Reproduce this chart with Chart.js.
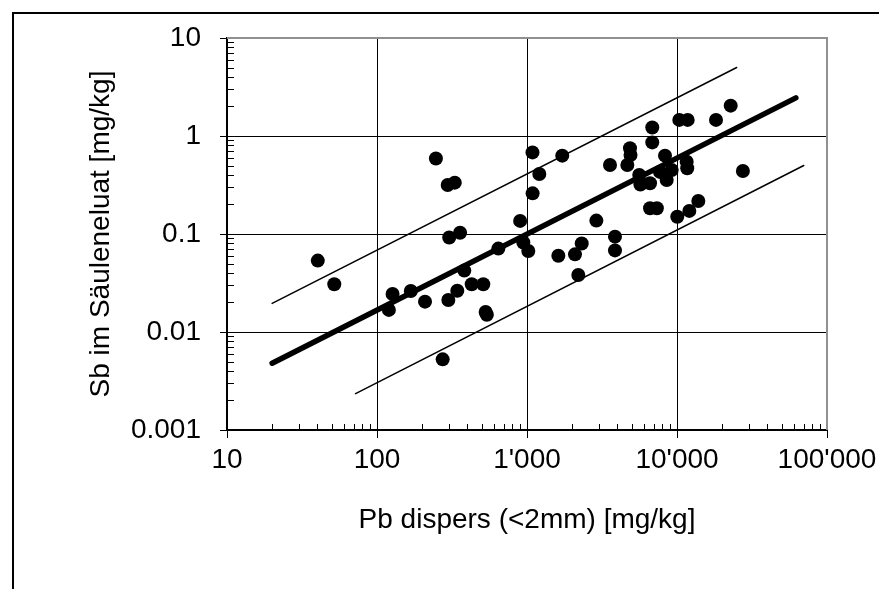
<!DOCTYPE html>
<html>
<head>
<meta charset="utf-8">
<script src="https://cdn.jsdelivr.net/npm/chart.js@4/dist/chart.umd.min.js"></script>
<style>
  html, body { margin: 0; padding: 0; background: #fff; }
  #sb-chart { display: block; }
</style>
</head>
<body>
<canvas id="sb-chart" width="879" height="589"></canvas>
<script>
// Pb dispers (<2mm) [mg/kg] vs Sb im Säuleneluat [mg/kg]
const pbDispers = [40.3, 51.9, 120, 127, 168, 209, 247, 274, 299, 296, 330, 303, 358, 343, 382, 428, 511, 530, 540, 644,
  900, 945, 1020, 1088, 1090, 1208, 1618, 1718, 2089, 2198, 2316, 2900, 3575, 3860, 3860, 4666, 4860, 4900, 5600, 5700,
  6610, 6610, 7340, 6840, 6840, 7700, 8320, 8540, 9220, 10040, 10360, 11780, 11600, 11700, 12080, 13870, 18200, 22800, 27500];
const sbEluat = [0.0535, 0.0307, 0.0168, 0.0244, 0.0262, 0.0204, 0.59, 0.00526, 0.0212, 0.316, 0.334, 0.092, 0.103, 0.0264, 0.0423, 0.0307, 0.0307, 0.016, 0.015, 0.071,
  0.136, 0.082, 0.067, 0.68, 0.26, 0.41, 0.060, 0.63, 0.062, 0.0382, 0.080, 0.137, 0.506, 0.094, 0.068, 0.506, 0.75, 0.64, 0.40, 0.32,
  0.329, 0.183, 0.183, 1.22, 0.86, 0.43, 0.63, 0.356, 0.45, 0.150, 1.46, 1.46, 0.547, 0.468, 0.172, 0.217, 1.46, 2.04, 0.44];

// regression line and the two band lines (end points)
const fitX = [20, 62000];
const fitY = [0.0048, 2.45];
const upperX = [20, 25000];
const upperY = [0.0196, 5.0];
const lowerX = [72, 70000];
const lowerY = [0.00235, 0.5];

const xTicks = [10, 100, 1000, 10000, 100000];
const xTickLabels = ["10", "100", "1'000", "10'000", "100'000"];
const yTicks = [0.001, 0.01, 0.1, 1, 10];
const yTickLabels = ["0.001", "0.01", "0.1", "1", "10"];

const FONT = { family: "'Liberation Sans', Arial, sans-serif", size: 28 };

function points(xs, ys) {
  return xs.map((v, i) => ({ x: v, y: ys[i] }));
}

function lineDataset(xs, ys, width) {
  return {
    data: points(xs, ys),
    showLine: true,
    borderColor: "#000",
    borderWidth: width,
    borderCapStyle: "round",
    pointRadius: 0,
    fill: false,
  };
}

// minor log ticks, plot frame and the outer frame
const frame = {
  id: "frame",
  afterDraw(chart) {
    const { ctx, chartArea: a, scales: { x, y } } = chart;
    ctx.save();
    ctx.strokeStyle = "#000";
    ctx.lineWidth = 1;
    ctx.beginPath();
    for (let e = 1; e < 5; e++) {
      for (let k = 2; k < 10; k++) {
        const px = Math.round(x.getPixelForValue(k * Math.pow(10, e))) + 0.5;
        ctx.moveTo(px, a.bottom);
        ctx.lineTo(px, a.bottom - 6);
      }
    }
    for (let e = -3; e < 1; e++) {
      for (let k = 2; k < 10; k++) {
        const py = Math.round(y.getPixelForValue(k * Math.pow(10, e))) + 0.5;
        ctx.moveTo(a.left, py);
        ctx.lineTo(a.left + 7, py);
      }
    }
    ctx.stroke();

    ctx.strokeStyle = "#909090";
    ctx.lineWidth = 2;
    ctx.beginPath();
    ctx.moveTo(a.left, a.top);
    ctx.lineTo(a.right, a.top);
    ctx.lineTo(a.right, a.bottom);
    ctx.stroke();

    ctx.strokeStyle = "#000";
    ctx.beginPath();
    ctx.moveTo(13, chart.height);
    ctx.lineTo(13, 13);
    ctx.lineTo(chart.width, 13);
    ctx.stroke();
    ctx.restore();
  },
};

new Chart(document.getElementById("sb-chart"), {
  type: "scatter",
  data: {
    datasets: [
      {
        data: points(pbDispers, sbEluat),
        backgroundColor: "#000",
        borderWidth: 0,
        pointRadius: 7,
      },
      lineDataset(fitX, fitY, 5.5),
      lineDataset(upperX, upperY, 1.5),
      lineDataset(lowerX, lowerY, 1.5),
    ],
  },
  options: {
    responsive: false,
    animation: false,
    layout: { padding: { top: 38, right: 52, left: 0, bottom: 0 } },
    plugins: { legend: { display: false }, tooltip: { enabled: false } },
    scales: {
      x: {
        type: "logarithmic",
        min: 10,
        max: 100000,
        afterBuildTicks: (s) => { s.ticks = xTicks.map((v) => ({ value: v })); },
        afterFit: (s) => { s.height = 159; s.paddingLeft = 0; s.paddingRight = 0; },
        ticks: {
          autoSkip: false,
          maxRotation: 0,
          color: "#000",
          font: FONT,
          padding: 5,
          callback: (v) => xTickLabels[xTicks.indexOf(v)],
        },
        grid: { color: "#000", lineWidth: 1, tickLength: 8 },
        border: { color: "#000", width: 2 },
        title: {
          display: true,
          text: "Pb dispers (<2mm) [mg/kg]",
          color: "#000",
          font: FONT,
          padding: { top: 0, bottom: 52 },
        },
      },
      y: {
        type: "logarithmic",
        min: 0.001,
        max: 10,
        afterBuildTicks: (s) => { s.ticks = yTicks.map((v) => ({ value: v })); },
        afterFit: (s) => { s.width = 227; s.paddingTop = 0; s.paddingBottom = 0; },
        ticks: {
          autoSkip: false,
          color: "#000",
          font: FONT,
          padding: 19,
          callback: (v) => yTickLabels[yTicks.indexOf(v)],
        },
        grid: { color: "#000", lineWidth: 1, tickLength: 7 },
        border: { color: "#000", width: 2 },
        title: {
          display: true,
          text: "Sb im Säuleneluat [mg/kg]",
          color: "#000",
          font: FONT,
          padding: { top: 84, bottom: 0 },
        },
      },
    },
  },
  plugins: [frame],
});
</script>
</body>
</html>
